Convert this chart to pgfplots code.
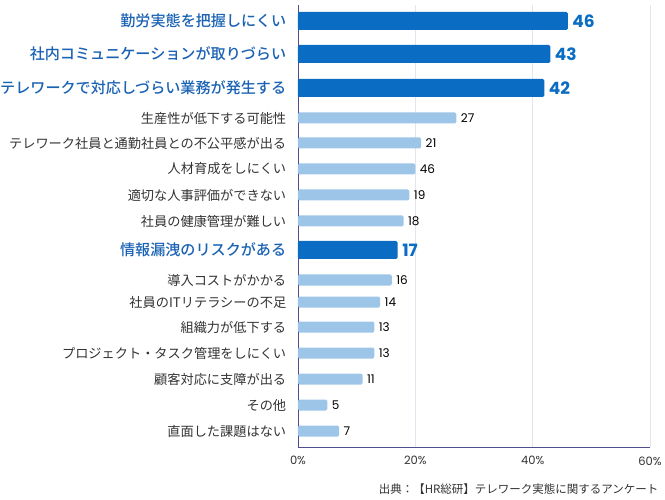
\documentclass[border=0pt]{standalone}
\usepackage{fontspec}
\setmainfont{Noto Sans CJK JP}[BoldFont={Noto Sans CJK JP Medium}]
\newfontfamily\numfont{Poppins}
\usepackage{pgfplots}
\usepackage{pgfplotstable}
\pgfplotsset{compat=1.18}

\definecolor{hibar}{HTML}{0A6CC2}
\definecolor{lobar}{HTML}{9DC5E8}
\definecolor{hitext}{HTML}{1A62B4}
\definecolor{lotext}{HTML}{333333}
\definecolor{axisline}{HTML}{4E4E8E}
\definecolor{gridc}{HTML}{E4E4EE}

% pos = row centre (px from top, negated), val = bar length, lab = printed value
\pgfplotstableread{
pos val lab
-21 46 46
-54 43 43
-88 42 42
-250 17 17
}\hitable
\pgfplotstableread{
pos val lab
-118 27 27
-143 21 21
-169 20 46
-195 19 19
-221 18 18
-280 16 16
-302 14 14
-327 13 13
-353 13 13
-379 11 11
-405 5 5
-431 7 7
}\lotable

\newcommand{\hl}[1]{{\color{hitext}\fontsize{15.1}{16}\selectfont\bfseries #1}}
\newcommand{\lo}[1]{{\color{lotext}\fontsize{13.2}{14}\selectfont #1}}

\begin{document}
\begin{tikzpicture}
\useasboundingbox (0,0) rectangle (665pt,-500pt);
\begin{axis}[
    at={(298pt,-447pt)}, anchor=south west,
    scale only axis, width=352pt, height=442pt,
    xmin=0, xmax=60, ymin=-447, ymax=-5,
    xbar, bar shift=0pt,
    axis lines*=left,
    axis line style={axisline, line width=0.8pt},
    xmajorgrids, grid style={gridc, line width=0.8pt},
    xtick={0,20,40,60},
    xticklabel={\pgfmathprintnumber{\tick}\%},
    xticklabel style={font=\numfont\fontsize{11.5}{12}\selectfont, text=lotext, yshift=-6pt},
    /pgf/number format/assume math mode=true,
    xtick style={draw=none}, ytick style={draw=none},
    ytick={-21,-54,-88,-118,-143,-169,-195,-221,-250,-280,-302,-327,-353,-379,-405,-431},
    yticklabels={\hl{勤労実態を把握しにくい},\hl{社内コミュニケーションが取りづらい},\hl{テレワークで対応しづらい業務が発生する},
      \lo{生産性が低下する可能性},\lo{テレワーク社員と通勤社員との不公平感が出る},\lo{人材育成をしにくい},
      \lo{適切な人事評価ができない},\lo{社員の健康管理が難しい},\hl{情報漏洩のリスクがある},
      \lo{導入コストがかかる},\lo{社員のITリテラシーの不足},\lo{組織力が低下する},
      \lo{プロジェクト・タスク管理をしにくい},\lo{顧客対応に支障が出る},\lo{その他},\lo{直面した課題はない}},
    yticklabel style={anchor=east, xshift=-4pt},
    point meta=explicit symbolic,
    nodes near coords,
]
\addplot[draw=none, fill=hibar, bar width=18pt, rounded corners=1.5pt,
    nodes near coords style={font=\numfont\bfseries\fontsize{17}{18}\selectfont, text=hibar, anchor=west, xshift=1pt, rounded corners=0pt}]
    table[x=val, y=pos, meta=lab] {\hitable};
\addplot[draw=none, fill=lobar, bar width=11pt, rounded corners=1.5pt,
    nodes near coords style={font=\numfont\fontsize{12}{13}\selectfont, text=black, anchor=west, xshift=1pt, rounded corners=0pt}]
    table[x=val, y=pos, meta=lab] {\lotable};
\end{axis}
\node[anchor=east, font=\fontsize{11.5}{12}\selectfont, text=lotext] at (662pt,-489pt)
    {出典：【HR総研】テレワーク実態に関するアンケート};
\end{tikzpicture}
\end{document}
